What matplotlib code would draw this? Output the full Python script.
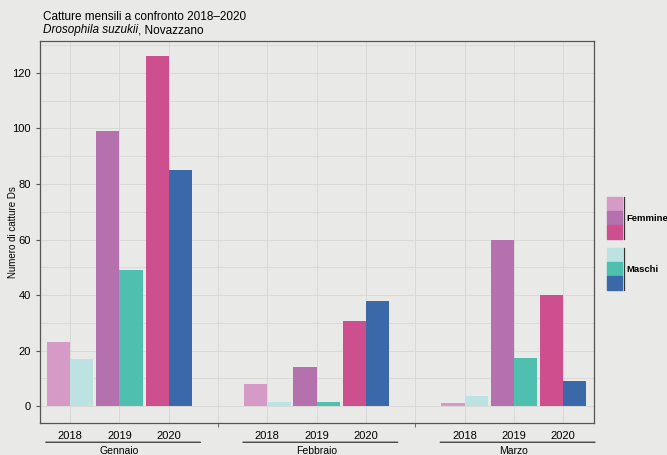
import numpy as np
import matplotlib
matplotlib.use("Agg")
import matplotlib.pyplot as plt
from matplotlib.patches import Rectangle

# data
months = ["Gennaio", "Febbraio", "Marzo"]
years = ["2018", "2019", "2020"]
femmine = [[23, 99, 126], [8, 14, 30.5], [1, 60, 40]]
maschi = [[17, 49, 85], [1.5, 1.5, 38], [3.5, 17.5, 9]]

col_f = ["#d59bc6", "#b571ad", "#cd4f8d"]
col_m = ["#bde2e2", "#4fbfb0", "#3b68a9"]
bg = "#e9e9e7"

plt.rcParams.update({'font.family': ['Liberation Sans', 'DejaVu Sans'], 'font.size': 8})

fig = plt.figure(figsize=(6.67, 4.55), dpi=100, facecolor=bg)
ax = fig.add_axes([0.060, 0.070, 0.831, 0.840], facecolor=bg)

w = 0.47
pos = []
for i, m in enumerate(months):
  for j, y in enumerate(years):
    x = i*4 + j
    pos.append(x)
    ax.bar(x - w/2, femmine[i][j], w, color=col_f[j], zorder=3)
    ax.bar(x + w/2, maschi[i][j], w, color=col_m[j], zorder=3)

ax.set_xlim(-0.61, 10.63)
ax.set_ylim(-6.1, 131.5)
ax.set_yticks(range(0, 121, 20))
ax.set_yticks(range(0, 131, 10), minor=True)
ax.set_xticks(pos)
ax.set_xticklabels(years * 3)
ax.set_xticks([3, 7], minor=True)
ax.tick_params(axis='x', which='major', length=0, pad=6)
ax.tick_params(axis='x', which='minor', length=3, color='#555555')
ax.tick_params(axis='y', which='major', length=3, color='#555555')
ax.tick_params(axis='y', which='minor', length=0)
ax.grid(which='both', axis='y', color='#d7d7d5', lw=0.6, zorder=0)
for xv in range(0, 11):
  ax.axvline(xv, color='#d7d7d5', lw=0.6, zorder=0)
for s in ax.spines.values():
  s.set_color('#555555')
  s.set_linewidth(0.9)

ax.set_ylabel("Numero di catture Ds", fontsize=7)
ax.yaxis.set_label_coords(-0.04, 0.5)

# month labels with lines under the year labels
for i, m in enumerate(months):
  x0 = i*4 - 0.55
  x1 = i*4 + 2.7
  ax.annotate("", xy=(x0, -0.05), xytext=(x1, -0.05), xycoords=('data', 'axes fraction'),
              arrowprops=dict(arrowstyle='-', color='#444444', lw=1.0))
  ax.text(i*4 + 1, -0.072, m, transform=ax.get_xaxis_transform(), ha='center', va='center',
          fontsize=7.5)

# title
fig.text(0.064, 0.962, "Catture mensili a confronto 2018\u20132020", fontsize=8.5, va='center')
t1 = fig.text(0.064, 0.934, "Drosophila suzukii", fontsize=8.5, style='italic', va='center')
fig.canvas.draw()
bb = t1.get_window_extent().transformed(fig.transFigure.inverted())
fig.text(bb.x1, 0.934, ", Novazzano", fontsize=8.5, va='center')

# legend, drawn by hand to look like the original
W, H = 667.0, 455.0
def box(x, ytop, c):
  fig.patches.append(Rectangle((x/W, 1 - (ytop + 14)/H), 15/W, 14/H, transform=fig.transFigure,
                               color=c, zorder=5))
for k, c in enumerate(col_f):
  box(607, 197 + k*14, c)
for k, c in enumerate(col_m):
  box(607, 248 + k*14, c)
fig.lines.append(plt.Line2D([624/W, 624/W], [1 - 197/H, 1 - 239/H], transform=fig.transFigure,
                            color='#333333', lw=0.9))
fig.lines.append(plt.Line2D([624/W, 624/W], [1 - 248/H, 1 - 290/H], transform=fig.transFigure,
                            color='#333333', lw=0.9))
fig.text(626/W, 1 - 218/H, "Femmine", fontsize=6.8, va='center', weight='bold')
fig.text(626/W, 1 - 269/H, "Maschi", fontsize=6.8, va='center', weight='bold')

fig.savefig("out.png", dpi=100, facecolor=bg)
